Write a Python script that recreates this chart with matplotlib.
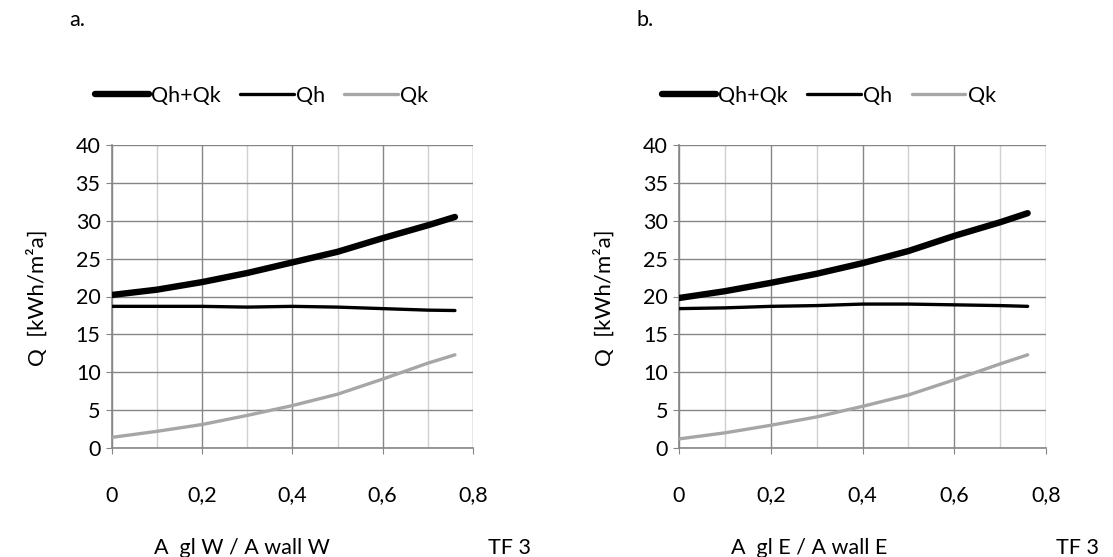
import matplotlib
matplotlib.use('Agg')
import matplotlib.pyplot as plt
from matplotlib.ticker import MultipleLocator, FuncFormatter

plt.rcParams['font.family'] = ['Lato', 'DejaVu Sans']

# ratio of glazing area to wall area
x = [0, 0.1, 0.2, 0.3, 0.4, 0.5, 0.6, 0.7, 0.76]

# a. west
qhk_w = [20.2, 20.9, 21.9, 23.1, 24.5, 25.9, 27.7, 29.4, 30.5]
qh_w = [18.7, 18.7, 18.7, 18.6, 18.7, 18.6, 18.4, 18.2, 18.15]
qk_w = [1.4, 2.2, 3.1, 4.3, 5.6, 7.1, 9.1, 11.2, 12.3]

# b. east
qhk_e = [19.8, 20.7, 21.8, 23.0, 24.4, 26.0, 28.0, 29.8, 31.0]
qh_e = [18.4, 18.5, 18.7, 18.8, 19.0, 19.0, 18.9, 18.8, 18.7]
qk_e = [1.2, 2.0, 3.0, 4.1, 5.5, 7.0, 9.0, 11.1, 12.3]

panels = ['a.', 'b.']
xlabels = ['A  gl W / A wall W', 'A  gl E / A wall E']
names = ['Qh+Qk', 'Qh', 'Qk']

W, H = 1113, 557
fig = plt.figure(figsize=(W / 100, H / 100), dpi=100)

grid_dark = '#868686'
grid_light = '#d0d0d0'
fs = 15.5

def comma(v, pos):
    if abs(v) < 1e-9:
        return '0'
    return ('%.1f' % v).replace('.', ',')

lefts = [111.7, 679]
rights = [473, 1046]
data = [(qhk_w, qh_w, qk_w), (qhk_e, qh_e, qk_e)]

for i in range(2):
    l, r = lefts[i], rights[i]
    ax = fig.add_axes([l / W, (H - 448) / H, (r - l) / W, (448 - 145) / H])
    qhk, qh, qk = data[i]
    h1, = ax.plot(x, qhk, color='black', lw=4.6, solid_capstyle='round',
                  solid_joinstyle='round', zorder=5)
    h2, = ax.plot(x, qh, color='black', lw=2.4, solid_capstyle='round',
                  solid_joinstyle='round', zorder=4)
    h3, = ax.plot(x, qk, color='#a6a6a6', lw=2.4, solid_capstyle='round',
                  solid_joinstyle='round', zorder=3)

    ax.set_xlim(0, 0.8)
    ax.set_ylim(0, 40)
    ax.xaxis.set_major_locator(MultipleLocator(0.2))
    ax.xaxis.set_minor_locator(MultipleLocator(0.1))
    ax.yaxis.set_major_locator(MultipleLocator(5))
    ax.xaxis.set_major_formatter(FuncFormatter(comma))
    ax.grid(which='major', color=grid_dark, lw=1.0)
    ax.grid(which='minor', axis='x', color=grid_light, lw=1.0)
    ax.set_axisbelow(True)
    for s in ['top', 'right']:
        ax.spines[s].set_visible(False)
    for s in ['left', 'bottom']:
        ax.spines[s].set_color(grid_dark)
        ax.spines[s].set_linewidth(1.2)
    ax.tick_params(axis='y', length=4, color=grid_dark, labelsize=fs, pad=4)
    ax.tick_params(axis='x', which='major', length=4, color=grid_dark,
                   labelsize=fs, pad=23)
    ax.tick_params(axis='x', which='minor', length=0)

    fig.text((l - 75) / W, 1 - 298 / H, 'Q  [kWh/m²a]', rotation=90,
             ha='center', va='center', fontsize=fs + 0.5)
    fig.text((l - 42) / W, 1 - 20 / H, panels[i], ha='left', va='center',
             fontsize=fs)
    fig.text((l + 130) / W, 1 - 548 / H, xlabels[i], ha='center',
             va='center', fontsize=fs)
    fig.text((l + 398) / W, 1 - 548 / H, 'TF 3', ha='center', va='center',
             fontsize=fs)

    fig.legend([h1, h2, h3], names, loc='center left',
               bbox_to_anchor=((l - 17) / W, 1 - 96 / H), ncol=3, frameon=False,
               fontsize=fs, handlelength=2.5, handletextpad=0.1,
               columnspacing=0.9, borderaxespad=0, borderpad=0)

fig.savefig('out.png', dpi=100)
